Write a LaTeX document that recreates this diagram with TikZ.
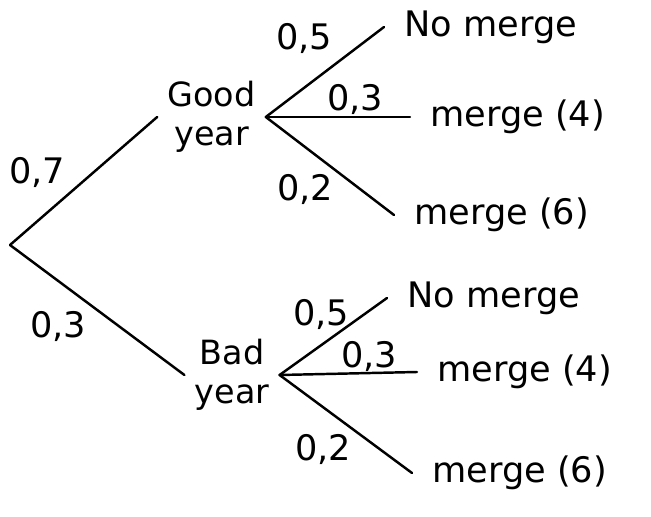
\documentclass[tikz,border=0pt]{standalone}
\usepackage{fontspec}
\setmainfont{DejaVu Sans}

\begin{document}
\begin{tikzpicture}[
    every node/.style={font=\fontsize{20}{18}\selectfont},
    branch/.style={line width=1.4pt, line cap=round},
    state/.style={align=center, inner xsep=0.2cm, inner ysep=0pt,
      font=\fontsize{19}{22}\selectfont},
    outcome/.style={anchor=west, inner xsep=0.4cm, inner ysep=0pt},
    prob/.style={inner sep=0pt}]
  \useasboundingbox (0,0) rectangle (13.02,-10.34);
  % first stage
  \coordinate (root) at (0.2,-4.9);
  \node[state] (good) at (4.23,-2.34) {Good\\year};
  \node[state] (bad) at (4.64,-7.5) {Bad\\year};
  \draw[branch] (root) -- (good.west);
  \draw[branch] (root) -- (bad.west);
  \node[prob] (pgood) at (0.74,-3.44) {0,7};
  \node[prob] (pbad) at (1.16,-6.52) {0,3};
  % good year
  \node[outcome] (goodno) at (7.68,-0.54) {No merge};
  \node[outcome] (goodfour) at (8.2,-2.34) {merge (4)};
  \node[outcome] (goodsix) at (7.88,-4.3) {merge (6)};
  \draw[branch] (good.east) -- (goodno.west);
  \draw[branch] (good.east) -- (goodfour.west);
  \draw[branch] (good.east) -- (goodsix.west);
  \node[prob] (pgoodno) at (6.08,-0.78) {0,5};
  \node[prob] (pgoodfour) at (7.1,-2.0) {0,3};
  \node[prob] (pgoodsix) at (6.1,-3.8) {0,2};
  % bad year
  \node[outcome] (badno) at (7.74,-5.96) {No merge};
  \node[outcome] (badfour) at (8.34,-7.44) {merge (4)};
  \node[outcome] (badsix) at (8.24,-9.46) {merge (6)};
  \draw[branch] (bad.east) -- (badno.west);
  \draw[branch] (bad.east) -- (badfour.west);
  \draw[branch] (bad.east) -- (badsix.west);
  \node[prob] (pbadno) at (6.42,-6.28) {0,5};
  \node[prob] (pbadfour) at (7.38,-7.12) {0,3};
  \node[prob] (pbadsix) at (6.46,-8.98) {0,2};
\end{tikzpicture}
\end{document}
